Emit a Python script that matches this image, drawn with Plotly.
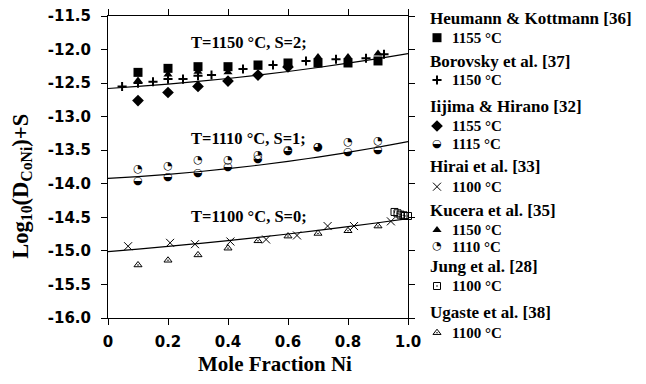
import plotly.graph_objects as go

# ---------------- data ----------------
fit_x = [0.0, 0.1, 0.2, 0.3, 0.4, 0.5, 0.6, 0.7, 0.8, 0.9, 1.0]
fit_s2 = [-12.58, -12.55, -12.515, -12.475, -12.431, -12.381, -12.327, -12.267, -12.203, -12.134, -12.06]
fit_s1 = [-13.92, -13.893, -13.86, -13.821, -13.775, -13.724, -13.666, -13.602, -13.532, -13.456, -13.373]
fit_s0 = [-15.01, -14.973, -14.934, -14.891, -14.846, -14.798, -14.748, -14.695, -14.639, -14.581, -14.52]

heumann_x = [0.1, 0.2, 0.3, 0.4, 0.5, 0.6, 0.7, 0.8, 0.9]
heumann_y = [-12.34, -12.28, -12.255, -12.255, -12.23, -12.20, -12.20, -12.20, -12.17]

borovsky_x = [0.047, 0.1, 0.15, 0.2, 0.25, 0.3, 0.345, 0.45, 0.55, 0.66, 0.76, 0.86, 0.92]
borovsky_y = [-12.55, -12.50, -12.48, -12.44, -12.44, -12.39, -12.38, -12.29, -12.23, -12.17, -12.145, -12.13, -12.07]

iijima1155_x = [0.1, 0.2, 0.3, 0.4, 0.5, 0.6]
iijima1155_y = [-12.76, -12.64, -12.55, -12.47, -12.38, -12.26]

iijima1115_x = [0.1, 0.2, 0.3, 0.4, 0.5, 0.6, 0.7, 0.8, 0.9]
iijima1115_y = [-13.96, -13.90, -13.845, -13.76, -13.63, -13.51, -13.46, -13.53, -13.50]

hirai_x = [0.067, 0.207, 0.29, 0.408, 0.527, 0.63, 0.732, 0.82, 0.943]
hirai_y = [-14.93, -14.88, -14.90, -14.86, -14.83, -14.77, -14.63, -14.63, -14.56]

kucera1150_x = [0.1, 0.2, 0.3, 0.4, 0.5, 0.6, 0.7, 0.8, 0.9]
kucera1150_y = [-12.46, -12.37, -12.33, -12.34, -12.27, -12.22, -12.11, -12.11, -12.06]

kucera1110_x = [0.1, 0.2, 0.3, 0.4, 0.5, 0.6, 0.7, 0.8, 0.9]
kucera1110_y = [-13.785, -13.735, -13.655, -13.645, -13.57, -13.50, -13.46, -13.38, -13.37]

jung_x = [0.955, 0.965, 0.975, 0.985, 0.99, 1.0]
jung_y = [-14.42, -14.44, -14.46, -14.47, -14.48, -14.48]

ugaste_x = [0.1, 0.2, 0.3, 0.4, 0.5, 0.6, 0.7, 0.8, 0.9]
ugaste_y = [-15.21, -15.14, -15.06, -14.96, -14.85, -14.78, -14.74, -14.70, -14.63]

x_tickvals = [0, 0.2, 0.4, 0.6, 0.8, 1.0]
x_ticktext = ["0", "0.2", "0.4", "0.6", "0.8", "1.0"]
y_tickvals = [-16.0, -15.5, -15.0, -14.5, -14.0, -13.5, -13.0, -12.5, -12.0, -11.5]
y_ticktext = ["-16.0", "-15.5", "-15.0", "-14.5", "-14.0", "-13.5", "-13.0", "-12.5", "-12.0", "-11.5"]

curve_labels = ["T=1150 °C, S=2;", "T=1110 °C, S=1;", "T=1100 °C, S=0;"]
curve_label_y = [-11.90, -13.32, -14.49]

legend_headers = ["Heumann &amp; Kottmann [36]", "Borovsky et al. [37]", "Iijima &amp; Hirano [32]",
                  "Hirai et al. [33]", "Kucera et al. [35]", "Jung et al. [28]", "Ugaste et al. [38]"]

# ---------------- styles ----------------
BLACK = "black"
SERIF = "Liberation Serif"
SANS = "DejaVu Sans"

series = [
    dict(x=heumann_x, y=heumann_y, label="1155 °C",
         marker=dict(symbol="square", size=9, color=BLACK)),
    dict(x=borovsky_x, y=borovsky_y, label="1150 °C",
         marker=dict(symbol="cross-thin", size=6.5, color=BLACK, line=dict(color=BLACK, width=2))),
    dict(x=iijima1155_x, y=iijima1155_y, label="1155 °C",
         marker=dict(symbol="diamond", size=9, color=BLACK)),
    dict(x=iijima1115_x, y=iijima1115_y, label="1115 °C", glyph="\u25D2"),
    dict(x=hirai_x, y=hirai_y, label="1100 °C",
         marker=dict(symbol="x-thin", size=8, color=BLACK, line=dict(color=BLACK, width=1))),
    dict(x=kucera1150_x, y=kucera1150_y, label="1150 °C",
         marker=dict(symbol="triangle-up", size=8, color=BLACK)),
    dict(x=kucera1110_x, y=kucera1110_y, label="1110 °C", glyph="\u25D4"),
    dict(x=jung_x, y=jung_y, label="1100 °C",
         marker=dict(symbol="square-open-dot", size=7, color=BLACK, line=dict(color=BLACK, width=1))),
    dict(x=ugaste_x, y=ugaste_y, label="1100 °C",
         marker=dict(symbol="triangle-up-open-dot", size=7, color=BLACK, line=dict(color=BLACK, width=1))),
]
GLYPH_FONT = dict(family=SANS, size=11, color=BLACK)

# legend layout (pixel rows in the figure)
HEADER_ROW_Y = [18.3, 61, 106, 166.7, 210.7, 266, 312.7]
ITEM_ROW_Y = [37.7, 80, 126, 144, 186.7, 230, 246.7, 286, 332.7]
HEADER_X, KEY_X, ITEM_X = 428, 437, 450

W, H = 646, 384
PLOT_L, PLOT_R, PLOT_T, PLOT_B = 108, 408, 16, 318

fig = go.Figure()

for fy in (fit_s2, fit_s1, fit_s0):
    fig.add_trace(go.Scatter(x=fit_x, y=fy, mode="lines", line=dict(color=BLACK, width=1.2, shape="spline"),
                             hoverinfo="skip"))

def add_series(s, xs, ys, **kw):
    if "glyph" in s:
        fig.add_trace(go.Scatter(x=xs, y=ys, mode="text", text=[s["glyph"]] * len(xs),
                                 textposition="middle center", textfont=GLYPH_FONT,
                                 cliponaxis=False, hoverinfo="skip", **kw))
    else:
        fig.add_trace(go.Scatter(x=xs, y=ys, mode="markers", marker=s["marker"],
                                 cliponaxis=False, **kw))

for s in series:
    add_series(s, s["x"], s["y"])

# legend keys on a pixel overlay axis
for s, ry in zip(series, ITEM_ROW_Y):
    add_series(s, [KEY_X], [ry], xaxis="x2", yaxis="y2")

annotations = []
for txt, ry in zip(legend_headers, HEADER_ROW_Y):
    annotations.append(dict(x=HEADER_X, y=ry, xref="x2", yref="y2", text=txt, showarrow=False,
                            xanchor="left", yanchor="middle",
                            font=dict(family=SERIF, size=17, color=BLACK, weight="bold")))
for s, ry in zip(series, ITEM_ROW_Y):
    annotations.append(dict(x=ITEM_X, y=ry, xref="x2", yref="y2", text=s["label"], showarrow=False,
                            xanchor="left", yanchor="middle",
                            font=dict(family=SERIF, size=15, color=BLACK, weight="bold")))
for txt, ly in zip(curve_labels, curve_label_y):
    annotations.append(dict(x=0.27, y=ly, xref="x", yref="y", text=txt, showarrow=False,
                            xanchor="left", yanchor="middle",
                            font=dict(family=SERIF, size=16.5, color=BLACK, weight="bold")))
# axis titles
annotations.append(dict(x=275, y=364, xref="x2", yref="y2", text="Mole Fraction Ni", showarrow=False,
                        xanchor="center", yanchor="middle",
                        font=dict(family=SERIF, size=21, color=BLACK, weight="bold")))
annotations.append(dict(x=21.7, y=186, xref="x2", yref="y2",
                        text="Log<sub>10</sub>(D<sub>CoNi</sub>)+S", showarrow=False, textangle=-90,
                        xanchor="center", yanchor="middle",
                        font=dict(family=SERIF, size=22.5, color=BLACK, weight="bold")))

axis_common = dict(showline=True, linecolor=BLACK, linewidth=1, mirror="ticks", ticks="outside",
                   ticklen=6, tickwidth=1, tickcolor=BLACK, showgrid=False, zeroline=False,
                   tickfont=dict(family=SANS, size=15, color=BLACK, weight="bold"), automargin=False,
                   fixedrange=True)

fig.update_layout(
    width=W, height=H, margin=dict(l=0, r=0, t=0, b=0, pad=0),
    paper_bgcolor="white", plot_bgcolor="rgba(0,0,0,0)", showlegend=False,
    xaxis=dict(domain=[PLOT_L / W, PLOT_R / W], range=[0, 1], tickmode="array",
               tickvals=x_tickvals, ticktext=x_ticktext, anchor="y", ticklabelstandoff=4,
               **axis_common),
    yaxis=dict(domain=[1 - PLOT_B / H, 1 - PLOT_T / H], range=[-16.0, -11.5], tickmode="array",
               tickvals=y_tickvals, ticktext=y_ticktext, anchor="x", ticklabelstandoff=7,
               **axis_common),
    xaxis2=dict(domain=[0, 1], range=[0, W], visible=False, anchor="y2", fixedrange=True),
    yaxis2=dict(domain=[0, 1], range=[H, 0], visible=False, anchor="x2", fixedrange=True),
    annotations=annotations,
)

fig.write_html("out.html")
